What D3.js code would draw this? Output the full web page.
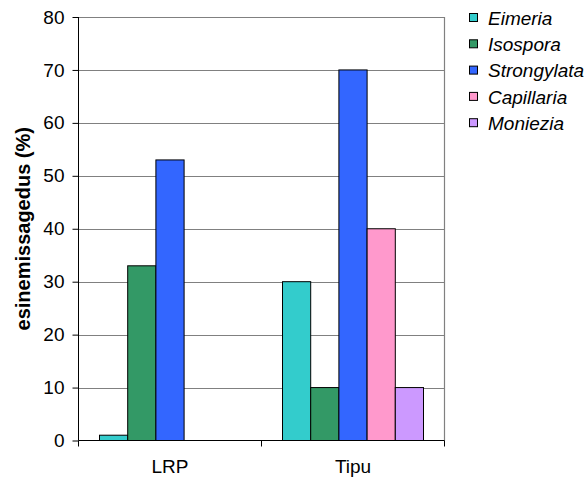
<!DOCTYPE html>
<html>
<head>
<meta charset="utf-8">
<script src="https://cdn.jsdelivr.net/npm/d3@7"></script>
<style>
  html, body { margin: 0; padding: 0; background: #fff; }
  svg { display: block; font-family: Arial, "Liberation Sans", sans-serif; }
</style>
</head>
<body>
<script>
// Parasite prevalence by site
const sites = ["LRP", "Tipu"];
const parasites = ["Eimeria", "Isospora", "Strongylata", "Capillaria", "Moniezia"];
const lrpValues = [1, 33, 53, 0, 0];
const tipuValues = [30, 10, 70, 40, 10];
const colors = ["#33CCCC", "#339966", "#3366FF", "#FF99CC", "#CC99FF"];
const yTicks = [0, 10, 20, 30, 40, 50, 60, 70, 80];
const yLabel = "esinemissagedus (%)";

const seriesValues = [lrpValues, tipuValues];

const W = 586, H = 479;
const FONT = "Arial, 'Liberation Sans', sans-serif";
const margin = { left: 78.5, top: 17, right: 586 - 444.5, bottom: 479 - 440.5 };
const pw = W - margin.left - margin.right;
const ph = H - margin.top - margin.bottom;

const svg = d3.select("body").append("svg").attr("width", W).attr("height", H);
const g = svg.append("g").attr("transform", `translate(${margin.left},${margin.top})`);

const x0 = d3.scaleBand().domain(sites).range([0, pw]).paddingInner(0).paddingOuter(0);
const groupPad = 21;
const x1 = d3.scaleBand().domain(parasites).range([groupPad, x0.bandwidth() - groupPad]).padding(0);
const y = d3.scaleLinear().domain([0, 80]).range([ph, 0]);

// gridlines
g.selectAll(".grid").data(yTicks.filter(d => d > 0)).join("line")
  .attr("x1", 0).attr("x2", pw)
  .attr("y1", d => Math.round(y(d)) + 0.5).attr("y2", d => Math.round(y(d)) + 0.5)
  .attr("stroke", "#808080").attr("stroke-width", 1);

// right border of plot area
g.append("line").attr("x1", pw).attr("x2", pw).attr("y1", 0).attr("y2", ph)
  .attr("stroke", "#808080").attr("stroke-width", 1.2);

// bars
const groups = g.selectAll(".site").data(sites).join("g")
  .attr("transform", d => `translate(${x0(d)},0)`);
groups.selectAll("rect")
  .data((s, i) => parasites.map((p, j) => ({ p, v: seriesValues[i][j], c: colors[j] })).filter(d => d.v > 0))
  .join("rect")
  .attr("x", d => x1(d.p))
  .attr("width", x1.bandwidth())
  .attr("y", d => y(d.v))
  .attr("height", d => ph - y(d.v))
  .attr("fill", d => d.c)
  .attr("stroke", "#000").attr("stroke-width", 1);

// y axis
const yAxis = d3.axisLeft(y).tickValues(yTicks).tickSize(6).tickPadding(8);
const ya = g.append("g").call(yAxis);
ya.select(".domain").attr("d", `M0,0V${ph}`).attr("stroke", "#000");
ya.selectAll(".tick line").attr("stroke", "#000");
ya.selectAll("text").attr("font-size", 19).attr("fill", "#000").attr("font-family", FONT);

// x axis
const xa = g.append("g").attr("transform", `translate(0,${ph})`)
  .call(d3.axisBottom(x0).tickSize(0).tickPadding(19));
xa.select(".domain").attr("d", `M0,0H${pw}`).attr("stroke", "#000");
xa.selectAll("text").attr("font-size", 19).attr("fill", "#000").attr("font-family", FONT);
// category boundary ticks
const bounds = sites.map(s => x0(s)).concat([pw]);
xa.selectAll(".bound").data(bounds).join("line")
  .attr("x1", d => d).attr("x2", d => d).attr("y1", 0).attr("y2", 6)
  .attr("stroke", "#000");

// y axis title
svg.append("text")
  .attr("transform", `translate(30,${margin.top + ph / 2}) rotate(-90)`)
  .attr("text-anchor", "middle")
  .attr("font-size", 20).attr("font-weight", "bold").attr("font-family", FONT)
  .text(yLabel);

// legend
const legend = svg.append("g").attr("transform", "translate(469,18)");
const items = legend.selectAll("g").data(parasites).join("g")
  .attr("transform", (d, i) => `translate(0,${i * 26.3})`);
items.append("rect").attr("x", 0.5).attr("y", -4.5).attr("width", 8).attr("height", 8)
  .attr("fill", (d, i) => colors[i]).attr("stroke", "#000").attr("stroke-width", 1);
items.append("text").attr("x", 19).attr("y", 0).attr("dy", "0.35em")
  .attr("font-size", 19).attr("font-style", "italic").attr("font-family", FONT)
  .text(d => d);
</script>
</body>
</html>
